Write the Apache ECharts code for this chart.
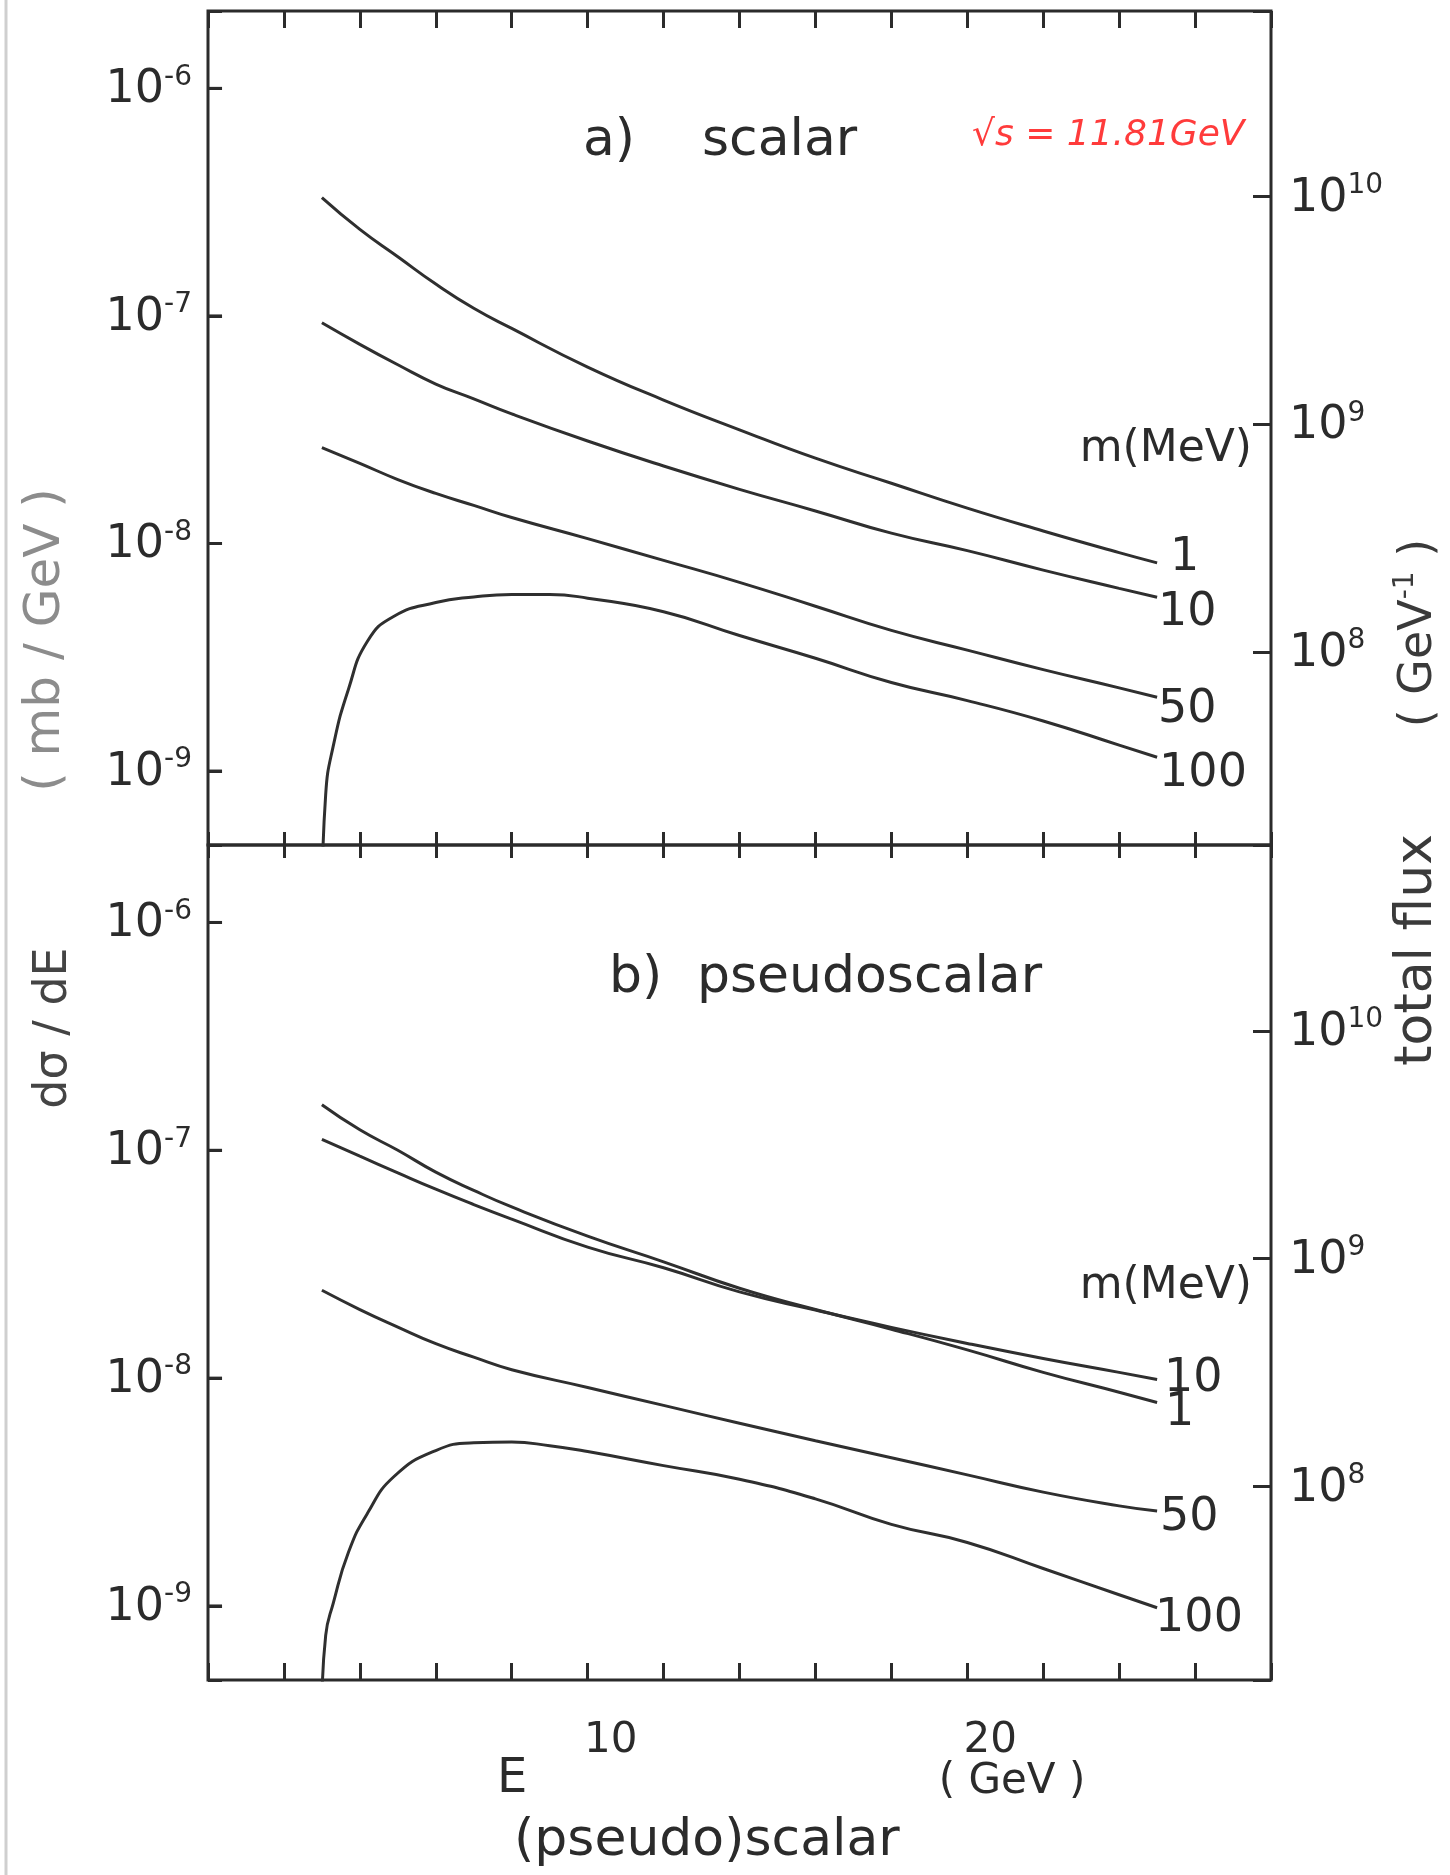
<!DOCTYPE html>
<html>
<head>
<meta charset="utf-8">
<script src="https://cdn.jsdelivr.net/npm/echarts@6/dist/echarts.min.js"></script>
<style>
  html, body { margin: 0; padding: 0; background: #fff; }
  #chart { width: 1450px; height: 1875px; }
</style>
</head>
<body>
<div id="chart"></div>
<script>
// energy of the (pseudo)scalar, GeV
var energy = [3, 4, 5, 6, 7, 8, 10, 12, 14, 16, 18, 20, 22, 24, 25];
// the m = 100 MeV curves need more points near threshold
var energyLow = [3.0, 3.1, 3.3, 3.7, 4.2, 4.9, 6, 7, 8, 9, 10, 12, 14, 16, 18, 20, 22, 24, 25];

// a) scalar, dsigma/dE (mb/GeV)
var scalarM1 = [3.31e-7, 2.40e-7, 1.82e-7, 1.38e-7, 1.08e-7, 8.81e-8, 5.96e-8, 4.27e-8, 3.16e-8, 2.37e-8, 1.84e-8, 1.43e-8, 1.135e-8, 9.12e-9, 8.22e-9];
var scalarM10 = [9.33e-8, 7.5e-8, 6.1e-8, 5.02e-8, 4.32e-8, 3.71e-8, 2.82e-8, 2.19e-8, 1.73e-8, 1.39e-8, 1.11e-8, 9.3e-9, 7.64e-9, 6.35e-9, 5.8e-9];
var scalarM50 = [2.64e-8, 2.25e-8, 1.91e-8, 1.66e-8, 1.47e-8, 1.30e-8, 1.05e-8, 8.43e-9, 6.75e-9, 5.30e-9, 4.15e-9, 3.40e-9, 2.79e-9, 2.32e-9, 2.11e-9];
var scalarM100 = [2.5e-10, 7.9e-10, 1.29e-9, 2.29e-9, 3.72e-9, 4.79e-9, 5.50e-9, 5.82e-9, 5.97e-9, 5.97e-9, 5.75e-9, 5.01e-9, 3.94e-9, 3.13e-9, 2.45e-9, 2.04e-9, 1.66e-9, 1.30e-9, 1.15e-9];

// b) pseudoscalar
var pseudoM1 = [1.585e-7, 1.23e-7, 1.0e-7, 8.02e-8, 6.67e-8, 5.64e-8, 4.20e-8, 3.24e-8, 2.48e-8, 2.0e-8, 1.64e-8, 1.33e-8, 1.06e-8, 8.67e-9, 7.82e-9];
var pseudoM10 = [1.117e-7, 9.42e-8, 7.96e-8, 6.75e-8, 5.78e-8, 4.99e-8, 3.76e-8, 3.05e-8, 2.39e-8, 1.99e-8, 1.67e-8, 1.42e-8, 1.22e-8, 1.06e-8, 9.86e-9];
var pseudoM50 = [2.43e-8, 2.0e-8, 1.675e-8, 1.416e-8, 1.236e-8, 1.089e-8, 9.1e-9, 7.59e-9, 6.34e-9, 5.31e-9, 4.47e-9, 3.76e-9, 3.16e-9, 2.75e-9, 2.61e-9];
var pseudoM100 = [3.55e-10, 7.43e-10, 1.03e-9, 1.72e-9, 2.55e-9, 3.70e-9, 4.81e-9, 5.20e-9, 5.24e-9, 5.05e-9, 4.76e-9, 4.13e-9, 3.60e-9, 2.95e-9, 2.28e-9, 1.90e-9, 1.46e-9, 1.12e-9, 9.82e-10];

// tick labels
var xLabels = [10, 20];
var crossExponents = [-9, -8, -7, -6];
var fluxExponents = [8, 9, 10];

// axis ranges (both panels share them)
var crossMin = Math.pow(10, -9.325);
var crossMax = Math.pow(10, -5.66);
var fluxMin = Math.pow(10, 7.151);
var fluxMax = Math.pow(10, 10.816);

var ink = '#2b2b2b';
var font = 'DejaVu Sans';
var leftTickLen = 0.37; // GeV, about 14 px

function pairs (xs, ys) {
  return xs.map(function (x, i) { return [x, ys[i]]; });
}

function powLabel (list) {
  return function (v) {
    var e = Math.log10(v);
    var r = Math.round(e);
    if (Math.abs(e - r) > 0.01 || list.indexOf(r) < 0) return '';
    return '{b|10}{s|' + r + '}';
  };
}

var powRich = {
  b: { fontSize: 46, fontFamily: font, color: ink, lineHeight: 50, verticalAlign: 'bottom' },
  s: { fontSize: 28, fontFamily: font, color: ink, lineHeight: 30, verticalAlign: 'top' }
};

function xAxisOf (grid, pos, len, labels) {
  return {
    type: 'value', gridIndex: grid, position: pos, min: 0, max: 28, interval: 2,
    axisLine: { show: false, onZero: false },
    splitLine: { show: false },
    axisTick: { show: true, inside: true, length: len, lineStyle: { color: ink, width: 3 } },
    axisLabel: labels ? {
      show: true, margin: 40, fontSize: 42, fontFamily: font, color: ink, padding: [0, 0, 0, 46],
      formatter: function (v) { return xLabels.indexOf(v) >= 0 ? String(v) : ''; }
    } : { show: false }
  };
}

function yAxisOf (grid, pos, min, max, len, margin, list) {
  return {
    type: 'log', logBase: 10, gridIndex: grid, position: pos, min: min, max: max,
    axisLine: { show: false, onZero: false },
    splitLine: { show: false },
    minorTick: { show: false },
    axisTick: { show: true, inside: true, length: len, lineStyle: { color: ink, width: 3 } },
    axisLabel: { show: true, margin: margin, formatter: powLabel(list), rich: powRich }
  };
}

// decade marks along the left frame, as short marker lines on the panel's own axes
function decadeMarks () {
  return {
    silent: true, symbol: ['none', 'none'], animation: false,
    label: { show: false },
    lineStyle: { color: ink, width: 3, type: 'solid' },
    data: crossExponents.map(function (e) {
      return [{ coord: [0, Math.pow(10, e)] }, { coord: [leftTickLen, Math.pow(10, e)] }];
    })
  };
}

function curve (label, xs, ys, xi, yi, offset, marks) {
  var s = {
    type: 'line', name: label, xAxisIndex: xi, yAxisIndex: yi,
    data: pairs(xs, ys),
    showSymbol: false, smooth: 0.5, clip: true,
    lineStyle: { color: '#2f2f2f', width: 3 },
    endLabel: {
      show: true, formatter: function () { return label; },
      color: ink, fontSize: 46, fontFamily: font, distance: 12, offset: offset
    },
    silent: true
  };
  if (marks) s.markLine = decadeMarks();
  return s;
}

function txt (x, y, text, size, extra) {
  var style = { text: text, fontSize: size, fontFamily: font, fill: ink, align: 'left', verticalAlign: 'middle' };
  for (var k in (extra || {})) style[k] = extra[k];
  return { type: 'text', x: x, y: y, style: style, silent: true };
}

var myChart = echarts.init(document.getElementById('chart'));

var option = {
  backgroundColor: '#ffffff',
  animation: false,
  grid: [
    { left: 208, top: 11, width: 1063, height: 834, show: true, borderColor: ink, borderWidth: 3, backgroundColor: 'transparent' },
    { left: 208, top: 845, width: 1063, height: 835, show: true, borderColor: ink, borderWidth: 3, backgroundColor: 'transparent' }
  ],
  xAxis: [
    xAxisOf(0, 'top', 17, false),
    xAxisOf(0, 'bottom', 13, false),
    xAxisOf(1, 'top', 13, false),
    xAxisOf(1, 'bottom', 17, true)
  ],
  yAxis: [
    yAxisOf(0, 'left', crossMin, crossMax, 14, 16, crossExponents),
    yAxisOf(0, 'right', fluxMin, fluxMax, 18, 18, fluxExponents),
    yAxisOf(1, 'left', crossMin, crossMax, 14, 16, crossExponents),
    yAxisOf(1, 'right', fluxMin, fluxMax, 18, 18, fluxExponents)
  ],
  series: [
    curve('1', energy, scalarM1, 1, 0, [1, -5], true),
    curve('10', energy, scalarM10, 1, 0, [-11, 16]),
    curve('50', energy, scalarM50, 1, 0, [-11, 13]),
    curve('100', energyLow, scalarM100, 1, 0, [-10, 17]),
    curve('10', energy, pseudoM10, 3, 2, [-5, 0], true),
    curve('1', energy, pseudoM1, 3, 2, [-4, 11]),
    curve('50', energy, pseudoM50, 3, 2, [-9, 7]),
    curve('100', energyLow, pseudoM100, 3, 2, [-14, 11])
  ],
  graphic: [
    { type: 'line', shape: { x1: 6, y1: 0, x2: 6, y2: 1875 }, style: { stroke: '#cfcfcf', lineWidth: 3 }, silent: true },
    txt(583, 141, 'a)', 52),
    txt(702, 141, 'scalar', 52),
    txt(972, 136, '\u221As = 11.81GeV', 36, { fill: '#ff3b3b', fontStyle: 'italic' }),
    txt(609, 978, 'b)', 52),
    txt(697, 978, 'pseudoscalar', 52),
    txt(1252, 450, 'm(MeV)', 44, { align: 'right' }),
    txt(1252, 1287, 'm(MeV)', 44, { align: 'right' }),
    txt(1012, 1782, '( GeV )', 42, { align: 'center' }),
    txt(497, 1780, 'E', 48),
    txt(514, 1841, '(pseudo)scalar', 52),
    {
      type: 'text', x: 54, y: 1028, rotation: Math.PI / 2, silent: true,
      style: { text: 'd\u03C3 / dE', fontSize: 46, fontFamily: font, fill: '#444', align: 'center', verticalAlign: 'middle' }
    },
    {
      type: 'text', x: 46, y: 640, rotation: Math.PI / 2, silent: true,
      style: { text: '( mb / GeV )', fontSize: 50, fontFamily: font, fill: '#8c8c8c', align: 'center', verticalAlign: 'middle' }
    },
    {
      type: 'text', x: 1417, y: 950, rotation: Math.PI / 2, silent: true,
      style: { text: 'total flux', fontSize: 52, fontFamily: font, fill: '#3a3a3a', align: 'center', verticalAlign: 'middle' }
    },
    {
      type: 'text', x: 1417, y: 633, rotation: Math.PI / 2, silent: true,
      style: {
        text: '{a|( GeV}{s|-1}{a| )}', align: 'center', verticalAlign: 'middle',
        rich: {
          a: { fontSize: 46, fontFamily: font, fill: '#3a3a3a', color: '#3a3a3a', lineHeight: 50, verticalAlign: 'bottom' },
          s: { fontSize: 28, fontFamily: font, fill: '#3a3a3a', color: '#3a3a3a', lineHeight: 30, verticalAlign: 'top' }
        }
      }
    }
  ]
};

myChart.setOption(option);

// the same decade marks again through single-axis conversion, in case the marker lines are dropped
var tickMarks = [];
[[1, 0], [3, 2]].forEach(function (pair) {
  var x0 = myChart.convertToPixel({ xAxisIndex: pair[0] }, 0);
  crossExponents.forEach(function (e) {
    var y = myChart.convertToPixel({ yAxisIndex: pair[1] }, Math.pow(10, e));
    if (typeof x0 !== 'number' || typeof y !== 'number' || isNaN(x0) || isNaN(y)) return;
    tickMarks.push({
      type: 'line', z: 100, silent: true,
      shape: { x1: x0, y1: y, x2: x0 + 14, y2: y },
      style: { stroke: ink, lineWidth: 3 }
    });
  });
});
if (tickMarks.length) {
  myChart.setOption({ graphic: option.graphic.concat(tickMarks) });
}
</script>
</body>
</html>
